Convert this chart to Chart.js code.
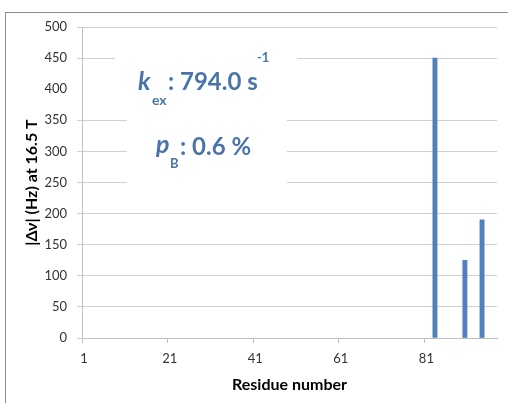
<!DOCTYPE html>
<html>
<head>
<meta charset="utf-8">
<script src="https://cdn.jsdelivr.net/npm/chart.js@4/dist/chart.umd.min.js"></script>
<style>
  html, body { margin: 0; padding: 0; background: #fff; }
  #wrap { width: 508px; height: 403px; position: relative; }
</style>
</head>
<body>
<div id="wrap"><canvas id="dvChart"></canvas></div>
<script>
// residues shown on the axis (1..97), only every 20th is labelled
const residueCount = 97;
const tickEvery = 20;
// residues that have a non-zero |Δν|
const residues = [83, 90, 94];
const deltaNu = [450, 125, 190];
// y axis
const yMin = 0;
const yMax = 500;
const yStep = 50;

const labels = [];
for (let r = 1; r <= residueCount; r++) labels.push(String(r));
const values = labels.map(l => {
    const i = residues.indexOf(Number(l));
    return i >= 0 ? deltaNu[i] : null;
});

const textBlue = '#4a74a8';

// frame + the two text boxes with kex / pB
const annotations = {
    id: 'annotations',
    beforeDraw(chart) {
        const c = chart.ctx;
        c.save();
        c.fillStyle = '#fff';
        c.fillRect(0, 0, chart.width, chart.height);
        c.strokeStyle = '#8c8c8c';
        c.lineWidth = 1;
        c.strokeRect(5.5, 12.5, 600, 600);
        c.restore();
    },
    afterDraw(chart) {
        const c = chart.ctx;
        c.save();
        c.fillStyle = '#fff';
        c.fillRect(115, 45, 182, 65);
        c.fillRect(127, 112, 160, 80);
        c.fillStyle = textBlue;
        c.textBaseline = 'alphabetic';
        c.font = 'italic bold 25px Lato';
        c.fillText('k', 138, 90);
        c.font = 'bold 14px Lato';
        c.fillText('ex', 152, 105);
        c.font = 'bold 24px Lato';
        c.fillText(': 794.0 s', 168, 90);
        c.font = 'bold 13px Lato';
        c.fillText('-1', 257, 62);
        c.font = 'italic bold 25px Lato';
        c.fillText('p', 156, 153);
        c.font = 'bold 13px Lato';
        c.fillText('B', 170, 168);
        c.font = 'bold 24px Lato';
        c.fillText(': 0.6 %', 180, 155);
        c.restore();
    }
};

const ctx = document.getElementById('dvChart').getContext('2d');
const dvChart = new Chart(ctx, {
    type: 'bar',
    data: {
        labels: labels,
        datasets: [{
            data: values,
            backgroundColor: '#4F81BD',
            borderWidth: 0,
            barPercentage: 1,
            categoryPercentage: 1
        }]
    },
    options: {
        responsive: true,
        maintainAspectRatio: false,
        animation: false,
        layout: { padding: { left: 6, right: 11, top: 27, bottom: 0 } },
        plugins: {
            legend: { display: false },
            tooltip: { enabled: false }
        },
        scales: {
            x: {
                type: 'category',
                offset: true,
                afterFit(scale) { scale.height = 65; },
                grid: {
                    offset: true,
                    drawOnChartArea: false,
                    tickLength: 5,
                    color: c => (c.index % tickEvery === 0 ? '#bfbfbf' : 'rgba(0,0,0,0)')
                },
                border: { color: '#bfbfbf' },
                ticks: {
                    autoSkip: false,
                    maxRotation: 0,
                    padding: 8,
                    color: '#333',
                    font: { family: 'Lato', size: 13 },
                    callback: (v, i) => (i % tickEvery === 0 ? labels[i] : '')
                },
                title: {
                    display: true,
                    text: 'Residue number',
                    color: '#000',
                    font: { family: 'Lato', size: 16, weight: 'bold' },
                    padding: { top: 4, bottom: 9 }
                }
            },
            y: {
                min: yMin,
                max: yMax,
                afterFit(scale) { scale.width = 76; },
                grid: {
                    tickLength: 5,
                    color: c => (c.tick && c.tick.value === 400 ? 'rgba(0,0,0,0)' : '#d0d0d0')
                },
                border: { color: '#bfbfbf' },
                ticks: {
                    stepSize: yStep,
                    padding: 10,
                    color: '#333',
                    font: { family: 'Lato', size: 13 }
                },
                title: {
                    display: true,
                    text: '|Δν| (Hz) at 16.5 T',
                    color: '#000',
                    font: { family: 'Lato', size: 16, weight: 'bold' },
                    padding: { top: 16, bottom: 0 }
                }
            }
        }
    },
    plugins: [annotations]
});
</script>
</body>
</html>
